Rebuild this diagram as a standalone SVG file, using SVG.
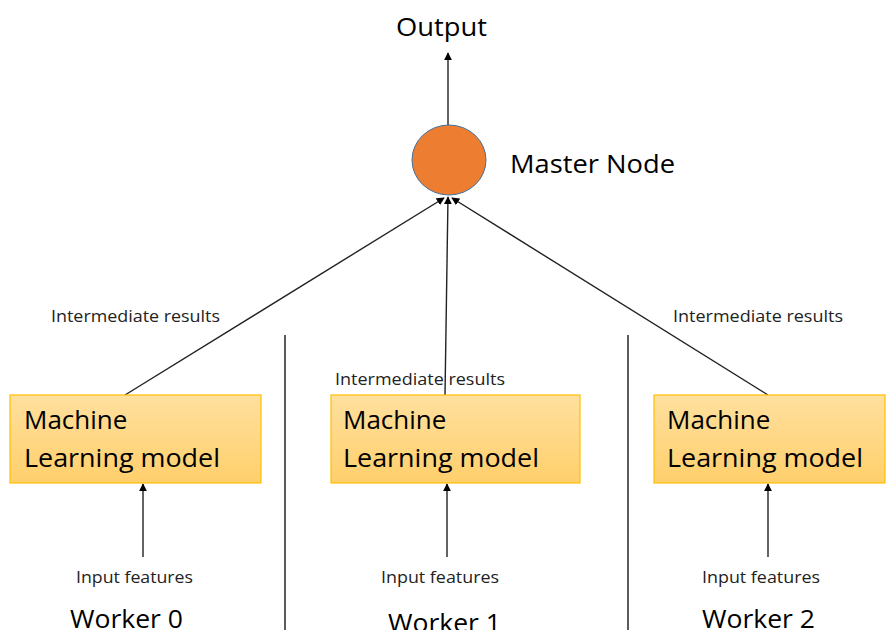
<svg xmlns="http://www.w3.org/2000/svg" width="889" height="630" viewBox="0 0 889 630">
<defs>
<linearGradient id="boxg" x1="0" y1="0" x2="0" y2="1">
<stop offset="0" stop-color="#FFE09F"/>
<stop offset="1" stop-color="#FFCF6B"/>
</linearGradient>
<marker id="arr" viewBox="0 0 10 10" refX="9" refY="5" markerWidth="8" markerHeight="8" markerUnits="userSpaceOnUse" orient="auto">
<path d="M0,0 L10,5 L0,10 z" fill="#000"/>
</marker>
</defs>
<style>
.box{fill:url(#boxg);stroke:#FFC000;stroke-width:1.2}
.big{font-family:"Open Sans","Liberation Sans",sans-serif;font-size:26px;fill:#000}
.small{font-family:"Open Sans","Liberation Sans",sans-serif;font-size:16px;fill:#222}
.conn{stroke:#222;stroke-width:1.4;fill:none}
.div{stroke:#333;stroke-width:1.6}
</style>
<rect width="889" height="630" fill="#fff"/>
<g id="dividers">
<line class="div" x1="285" y1="335" x2="285" y2="630"/>
<line class="div" x1="628" y1="335" x2="628" y2="630"/>
</g>
<g id="connectors">
<line class="conn" x1="448" y1="125" x2="448" y2="53" marker-end="url(#arr)"/>
<line class="conn" x1="125" y1="395" x2="444" y2="198" marker-end="url(#arr)"/>
<line class="conn" x1="445" y1="395" x2="448" y2="197" marker-end="url(#arr)"/>
<line class="conn" x1="768" y1="395" x2="452" y2="198" marker-end="url(#arr)"/>
<line class="conn" x1="143" y1="557" x2="143" y2="484" marker-end="url(#arr)"/>
<line class="conn" x1="447" y1="557" x2="447" y2="484" marker-end="url(#arr)"/>
<line class="conn" x1="768" y1="557" x2="768" y2="484" marker-end="url(#arr)"/>
</g>
<g id="output">
<text class="big" x="396" y="36" textLength="91" lengthAdjust="spacingAndGlyphs">Output</text>
</g>
<g id="master">
<ellipse cx="449" cy="160" rx="37" ry="35" fill="#ED7D31" stroke="#41719C" stroke-width="1"/>
<text class="big" x="510" y="173" textLength="165" lengthAdjust="spacingAndGlyphs">Master Node</text>
</g>
<g id="worker0">
<text class="small" x="51" y="322" textLength="169" lengthAdjust="spacingAndGlyphs">Intermediate results</text>
<rect class="box" x="10" y="395" width="251" height="88"/>
<text class="big" x="24" y="429">Machine</text>
<text class="big" x="24" y="467" textLength="196" lengthAdjust="spacingAndGlyphs">Learning model</text>
<text class="small" x="76" y="583" textLength="117" lengthAdjust="spacingAndGlyphs">Input features</text>
<text class="big" x="70" y="628" textLength="113" lengthAdjust="spacingAndGlyphs" font-size="27">Worker 0</text>
</g>
<g id="worker1">
<rect class="box" x="331" y="395" width="249" height="88"/>
<text class="small" x="335" y="385" textLength="170" lengthAdjust="spacingAndGlyphs">Intermediate results</text>
<text class="big" x="343" y="429">Machine</text>
<text class="big" x="343" y="467" textLength="196" lengthAdjust="spacingAndGlyphs">Learning model</text>
<text class="small" x="381" y="583" textLength="118" lengthAdjust="spacingAndGlyphs">Input features</text>
<text class="big" x="388" y="632" textLength="113" lengthAdjust="spacingAndGlyphs" font-size="27">Worker 1</text>
</g>
<g id="worker2">
<text class="small" x="673" y="322" textLength="170" lengthAdjust="spacingAndGlyphs">Intermediate results</text>
<rect class="box" x="654" y="395" width="231" height="88"/>
<text class="big" x="667" y="429">Machine</text>
<text class="big" x="667" y="467" textLength="196" lengthAdjust="spacingAndGlyphs">Learning model</text>
<text class="small" x="702" y="583" textLength="118" lengthAdjust="spacingAndGlyphs">Input features</text>
<text class="big" x="702" y="628" textLength="113" lengthAdjust="spacingAndGlyphs" font-size="27">Worker 2</text>
</g>
</svg>
